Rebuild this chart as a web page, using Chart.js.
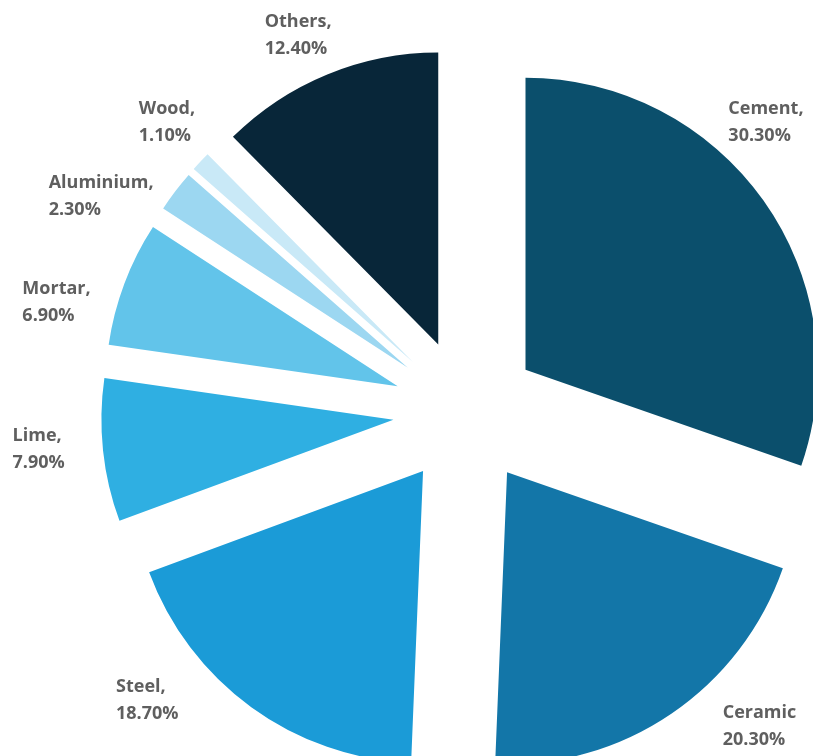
<!DOCTYPE html>
<html lang="en">
<head>
    <meta charset="UTF-8">
    <title>Material share</title>
    <script src="https://cdn.jsdelivr.net/npm/chart.js@4"></script>
    <style>
        html, body { margin: 0; padding: 0; background: #fff; overflow: hidden; }
        #wrap { position: relative; width: 813px; height: 756px; }
    </style>
</head>
<body>
    <div id="wrap">
        <canvas id="material-chart" width="813" height="756"></canvas>
    </div>
    <script>
        // Share of each material (%)
        const materials = ['Cement', 'Ceramic', 'Steel', 'Lime', 'Mortar', 'Aluminium', 'Wood', 'Others'];
        const shares = [30.3, 20.3, 18.7, 7.9, 6.9, 2.3, 1.1, 12.4];
        const sliceColors = ['#0b4f6c', '#1376a8', '#1b9bd7', '#2fafe2', '#62c4ea', '#9cd7f1', '#c9e9f7', '#082639'];

        // every slice pulled out by the same distance along its mid angle
        // (the built-in offset scales with slice size and trims thin slices)
        const EXPLODE = 73;

        // small angle tweaks (degrees) so labels sit clear of the slices
        const labelNudge = [-8.6, -8.8, 11.8, 1, -5.6, -6.6, 0.7, -1.7];
        const labelDist = [417, 430, 430, 429, 424, 424, 416, 412];

        const explodedSlices = {
            id: 'explodedSlices',
            beforeDatasetDraw(chart, args) {
                const ctx = chart.ctx;
                args.meta.data.forEach(arc => {
                    const mid = (arc.startAngle + arc.endAngle) / 2;
                    ctx.save();
                    ctx.translate(Math.cos(mid) * EXPLODE, Math.sin(mid) * EXPLODE);
                    arc.draw(ctx);
                    ctx.restore();
                });
                return false;
            }
        };

        const sliceLabels = {
            id: 'sliceLabels',
            afterDatasetsDraw(chart) {
                const ctx = chart.ctx;
                const arcs = chart.getDatasetMeta(0).data;
                const area = chart.chartArea;
                const cx = (area.left + area.right) / 2;
                const cy = (area.top + area.bottom) / 2;
                ctx.save();
                ctx.font = 'bold 18px "Open Sans", sans-serif';
                ctx.fillStyle = '#5f5f5f';
                ctx.textAlign = 'left';
                ctx.textBaseline = 'middle';
                arcs.forEach((arc, i) => {
                    const mid = (arc.startAngle + arc.endAngle) / 2 + labelNudge[i] * Math.PI / 180;
                    const x = cx + Math.cos(mid) * labelDist[i];
                    const y = cy + Math.sin(mid) * labelDist[i];
                    const sep = materials[i] === 'Ceramic' ? '' : ',';
                    const lines = [materials[i] + sep, shares[i].toFixed(2) + '%'];
                    const w = Math.max(...lines.map(l => ctx.measureText(l).width));
                    ctx.fillText(lines[0], x - w / 2, y - 13.5);
                    ctx.fillText(lines[1], x - w / 2, y + 13.5);
                });
                ctx.restore();
            }
        };

        const ctxMaterial = document.getElementById('material-chart').getContext('2d');
        const materialChart = new Chart(ctxMaterial, {
            type: 'pie',
            data: {
                labels: materials,
                datasets: [{
                    data: shares,
                    backgroundColor: sliceColors,
                    borderWidth: 0,
                    offset: 0,
                    hoverOffset: 0,
                    radius: 292,
                    clip: false
                }]
            },
            options: {
                responsive: false,
                animation: false,
                layout: {
                    padding: { left: 119, right: 0, top: 68, bottom: 0 }
                },
                plugins: {
                    legend: { display: false },
                    tooltip: { enabled: false }
                }
            },
            plugins: [explodedSlices, sliceLabels]
        });
    </script>
</body>
</html>
